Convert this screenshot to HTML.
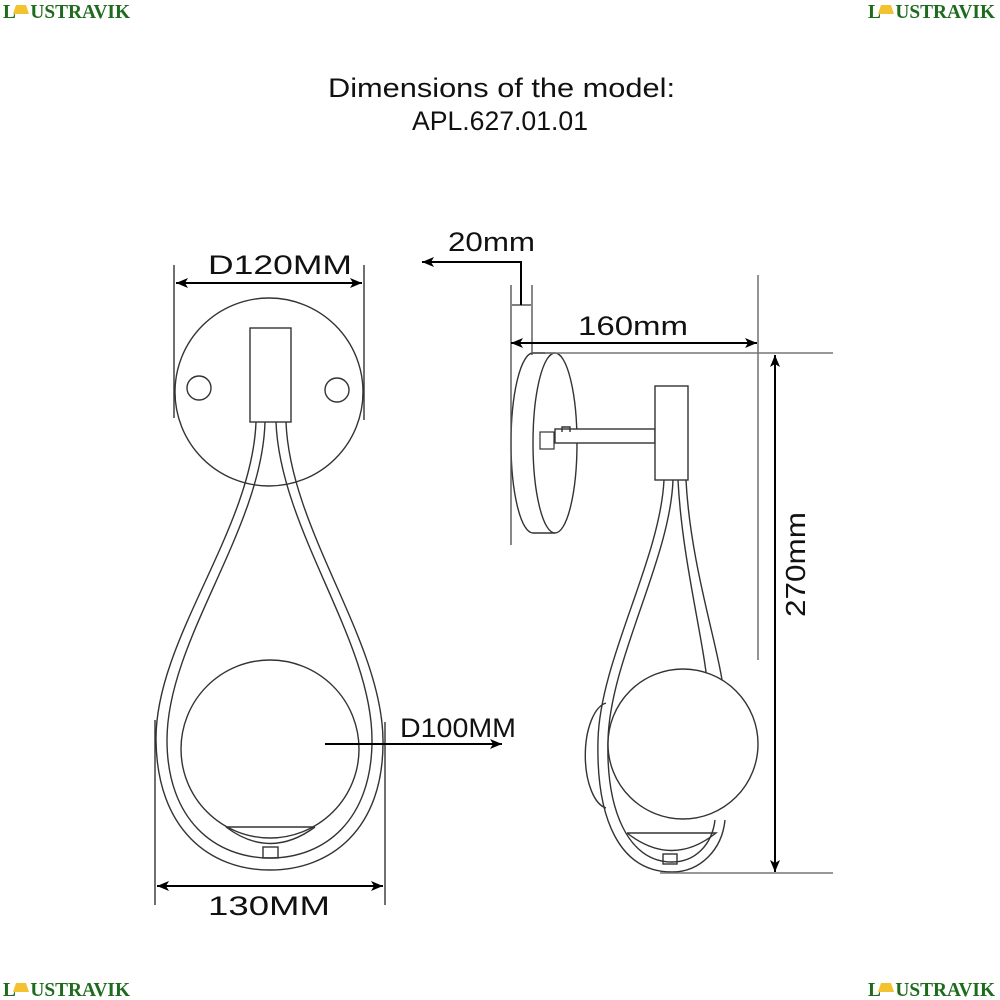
<!DOCTYPE html>
<html><head><meta charset="utf-8"><style>
html,body{margin:0;padding:0;background:#fff;width:1000px;height:1000px;overflow:hidden}
svg{display:block}
.logo{font-family:"Liberation Serif",serif;font-weight:bold;font-size:20px;fill:#1e6b1e}
.t{font-family:"Liberation Sans",sans-serif;fill:#111}
</style></head><body>
<svg width="1000" height="1000" viewBox="0 0 1000 1000" xmlns="http://www.w3.org/2000/svg">
<defs>
<marker id="ah" viewBox="0 0 12 10" refX="12" refY="5" markerWidth="12" markerHeight="10" markerUnits="userSpaceOnUse" orient="auto-start-reverse">
<path d="M0,0 L12,5 L0,10 L3,5 z" fill="#000"/></marker>
<g id="lg">
<text class="logo" x="0" y="18" textLength="127" lengthAdjust="spacingAndGlyphs">L&#160;&#160;&#160;USTRAVIK</text>
<path d="M13,5 h10 l3,9 h-16 z" fill="#f2c230"/>
</g>
</defs>
<use href="#lg" x="3" y="0"/>
<use href="#lg" x="868" y="0"/>
<use href="#lg" x="3" y="978"/>
<use href="#lg" x="868" y="978"/>

<text class="t" x="328" y="97" font-size="27" textLength="347" lengthAdjust="spacingAndGlyphs" fill="#333">Dimensions of the model:</text>
<text class="t" x="412" y="130" font-size="27" textLength="176" lengthAdjust="spacingAndGlyphs" fill="#333">APL.627.01.01</text>

<g fill="none" stroke="#333" stroke-width="1.4">
<circle cx="269" cy="392" r="94" fill="#fff"/>
<circle cx="199" cy="388" r="12"/>
<circle cx="337" cy="390" r="12"/>
<rect x="250" y="328" width="41" height="94" fill="#fff"/>
<path d="M256 422 C252 530,155 640,156 740 C157 830,210 870,270 870 C330 870,384 830,383 740 C382 640,290 530,286 422"/>
<path d="M265 422 C262 530,167 640,167 740 C167 820,215 858,270 858 C325 858,372 820,372 740 C372 640,280 530,276 422"/>
<circle cx="270" cy="749" r="89" fill="#fff"/>
<line x1="226" y1="827" x2="315" y2="827"/>
<path d="M226 827 Q270 860 315 827"/>
<rect x="263" y="847" width="15" height="11"/>
<line x1="174" y1="265" x2="174" y2="418"/>
<line x1="364" y1="265" x2="364" y2="420"/>
<line x1="155" y1="720" x2="155" y2="905"/>
<line x1="385" y1="722" x2="385" y2="905"/>

<path d="M555 353 L533 353 A22 90 0 0 0 533 533 L555 533"/>
<ellipse cx="555" cy="443" rx="22" ry="90" fill="#fff"/>
<rect x="555" y="429" width="100" height="14" fill="#fff"/>
<rect x="540" y="432" width="14" height="17" fill="#fff" stroke-width="1.2"/>
<path d="M562 432 v-5 h8 v5"/>
<rect x="655" y="386" width="33" height="94" fill="#fff"/>
<path d="M606 703 A24 53 0 0 0 606 808" fill="#fff"/>
<path d="M664 480 C660 560,600 660,598 740 C596 820,620 872,672 872 C700 872,722 850,725 820"/>
<path d="M673 480 C670 560,610 660,608 740 C606 810,628 862,672 862 C695 862,712 845,715 820"/>
<path d="M678 480 C682 560,704 640,708 690"/>
<path d="M686 480 C690 560,716 640,722 680"/>
<circle cx="683" cy="744" r="75" fill="#fff"/>
<path d="M627 833 L716 833 Q672 868 627 833"/>
<rect x="663" y="854" width="14" height="10"/>
<line x1="511" y1="285" x2="511" y2="545" stroke="#555"/>
<line x1="532" y1="285" x2="532" y2="355" stroke="#555"/>
<line x1="758" y1="275" x2="758" y2="660" stroke="#666"/>
<line x1="545" y1="353" x2="833" y2="353" stroke="#777"/>
<line x1="660" y1="873" x2="833" y2="873" stroke="#777"/>
</g>

<g stroke="#000" stroke-width="2" fill="none">
<line x1="176" y1="283" x2="362" y2="283" marker-start="url(#ah)" marker-end="url(#ah)"/>
<line x1="157" y1="886" x2="383" y2="886" marker-start="url(#ah)" marker-end="url(#ah)"/>
<line x1="325" y1="744" x2="502" y2="744" marker-end="url(#ah)"/>
<polyline points="521,305 521,262 422,262" marker-end="url(#ah)"/>
<line x1="512" y1="305" x2="531" y2="305" stroke-width="1"/>
<line x1="511" y1="343" x2="757" y2="343" marker-start="url(#ah)" marker-end="url(#ah)"/>
<line x1="775" y1="355" x2="775" y2="872" marker-start="url(#ah)" marker-end="url(#ah)"/>
</g>

<text class="t" x="208" y="274" font-size="27" textLength="144" lengthAdjust="spacingAndGlyphs">D120MM</text>
<text class="t" x="448" y="251" font-size="27" textLength="87" lengthAdjust="spacingAndGlyphs">20mm</text>
<text class="t" x="578" y="335" font-size="27" textLength="110" lengthAdjust="spacingAndGlyphs">160mm</text>
<text class="t" x="400" y="737" font-size="27" textLength="116" lengthAdjust="spacingAndGlyphs">D100MM</text>
<text class="t" x="208" y="915" font-size="27" textLength="122" lengthAdjust="spacingAndGlyphs">130MM</text>
<text class="t" font-size="28" transform="translate(805,617) rotate(-90)" textLength="105" lengthAdjust="spacingAndGlyphs">270mm</text>
</svg>
</body></html>
